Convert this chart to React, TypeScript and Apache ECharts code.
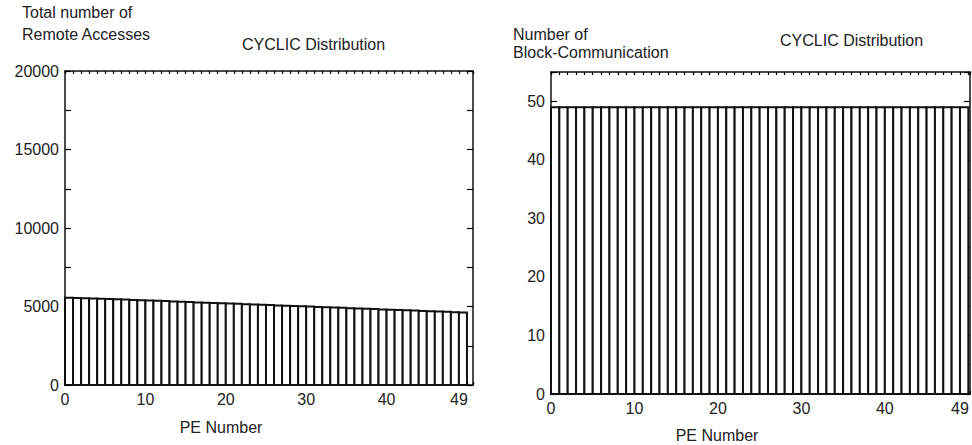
import React, { useEffect, useRef } from "react";
import * as echarts from "echarts";

const peNumbers: number[] = Array.from({ length: 50 }, (_, i) => i);
const remoteAccesses: number[] = [
  5560, 5545, 5525, 5510, 5495, 5470, 5455, 5440, 5415, 5400,
  5380, 5360, 5345, 5320, 5300, 5285, 5260, 5245, 5225, 5200,
  5185, 5170, 5150, 5130, 5105, 5090, 5070, 5050, 5030, 5010,
  4995, 4975, 4950, 4935, 4915, 4895, 4875, 4855, 4835, 4815,
  4800, 4775, 4755, 4740, 4720, 4700, 4680, 4660, 4640, 4620,
];
const blockComm: number[] = [
  49, 49, 49, 49, 49, 49, 49, 49, 49, 49,
  49, 49, 49, 49, 49, 49, 49, 49, 49, 49,
  49, 49, 49, 49, 49, 49, 49, 49, 49, 49,
  49, 49, 49, 49, 49, 49, 49, 49, 49, 49,
  49, 49, 49, 49, 49, 49, 49, 49, 49, 49,
];
const xTickLabels: number[] = [0, 10, 20, 30, 40, 49];

const FONT = "Liberation Sans";
const FS = 16;

function histItem(params: any, api: any) {
  const x = api.value(0);
  const v = api.value(1);
  const p0 = api.coord([x, 0]);
  const p1 = api.coord([x + 1, v]);
  return {
    type: "rect",
    shape: { x: p0[0], y: p1[1], width: p1[0] - p0[0], height: p0[1] - p1[1] },
    style: { fill: "#fff", stroke: "#111", lineWidth: 2 },
  };
}

export default function App() {
  const ref = useRef<HTMLDivElement>(null);
  useEffect(() => {
    if (!ref.current) return;
    const chart = echarts.init(ref.current, null, { renderer: "svg" });
    const axisLine = { show: true, onZero: false, lineStyle: { color: "#111", width: 1.5 } };
    const label = { color: "#222", fontFamily: FONT, fontSize: FS };
    const xTick = { show: true, inside: true, length: 3, lineStyle: { color: "#000", width: 1.2 } };
    const bottomX = (gridIndex: number, max: number) => ({
      type: "value",
      gridIndex,
      position: "bottom",
      min: 0,
      max,
      interval: 1,
      axisLine,
      axisTick: xTick,
      axisLabel: { ...label, customValues: xTickLabels, margin: 6 },
      splitLine: { show: false },
    });
    const topX = (gridIndex: number, max: number) => ({
      type: "value",
      gridIndex,
      position: "top",
      min: 0,
      max,
      interval: 1,
      axisLine,
      axisTick: xTick,
      axisLabel: { show: false },
      splitLine: { show: false },
    });
    const yAx = (gridIndex: number, max: number, interval: number, labelStep: number, pos: string, showLabel: boolean) => ({
      type: "value",
      gridIndex,
      position: pos,
      min: 0,
      max,
      interval,
      axisLine,
      axisTick: { show: true, inside: true, length: 6, lineStyle: { color: "#000", width: 1.2 } },
      axisLabel: showLabel
        ? { ...label, margin: 6, formatter: (v: number) => (v % labelStep === 0 && v <= labelStep * Math.floor(max / labelStep) ? String(v) : "") }
        : { show: false },
      splitLine: { show: false },
    });
    chart.setOption({
      animation: false,
      backgroundColor: "#fff",
      grid: [
        { left: 65, top: 71, width: 408, height: 314 },
        { left: 551, top: 72, width: 419, height: 322 },
      ],
      xAxis: [bottomX(0, 50.75), topX(0, 50.75), bottomX(1, 50.2), topX(1, 50.2)],
      yAxis: [
        yAx(0, 20000, 2500, 5000, "left", true),
        yAx(0, 20000, 2500, 5000, "right", false),
        yAx(1, 55, 5, 10, "left", true),
        yAx(1, 55, 5, 10, "right", false),
      ],
      series: [
        {
          type: "custom",
          xAxisIndex: 0,
          yAxisIndex: 0,
          renderItem: histItem,
          encode: { x: 0, y: 1 },
          data: peNumbers.map((p, i) => [p, remoteAccesses[i]]),
        },
        {
          type: "custom",
          xAxisIndex: 2,
          yAxisIndex: 2,
          renderItem: histItem,
          encode: { x: 0, y: 1 },
          data: peNumbers.map((p, i) => [p, blockComm[i]]),
        },
      ],
      graphic: [
        { type: "text", left: 22, top: 4, style: { text: "Total number of", fontFamily: FONT, fontSize: FS, fill: "#222" } },
        { type: "text", left: 22, top: 26, style: { text: "Remote Accesses", fontFamily: FONT, fontSize: FS, fill: "#222" } },
        { type: "text", left: 242, top: 36, style: { text: "CYCLIC Distribution", fontFamily: FONT, fontSize: FS, fill: "#222" } },
        { type: "text", left: 513, top: 26, style: { text: "Number of", fontFamily: FONT, fontSize: FS, fill: "#222" } },
        { type: "text", left: 513, top: 44, style: { text: "Block-Communication", fontFamily: FONT, fontSize: FS, fill: "#222" } },
        { type: "text", left: 780, top: 32, style: { text: "CYCLIC Distribution", fontFamily: FONT, fontSize: FS, fill: "#222" } },
        { type: "text", x: 221, y: 427, style: { text: "PE Number", fontFamily: FONT, fontSize: FS, fill: "#222", align: "center", verticalAlign: "middle" } },
        { type: "text", x: 717, y: 435, style: { text: "PE Number", fontFamily: FONT, fontSize: FS, fill: "#222", align: "center", verticalAlign: "middle" } },
      ],
    });
    return () => chart.dispose();
  }, []);
  return <div ref={ref} style={{ position: "fixed", left: 0, top: 0, width: 972, height: 445 }} />;
}
